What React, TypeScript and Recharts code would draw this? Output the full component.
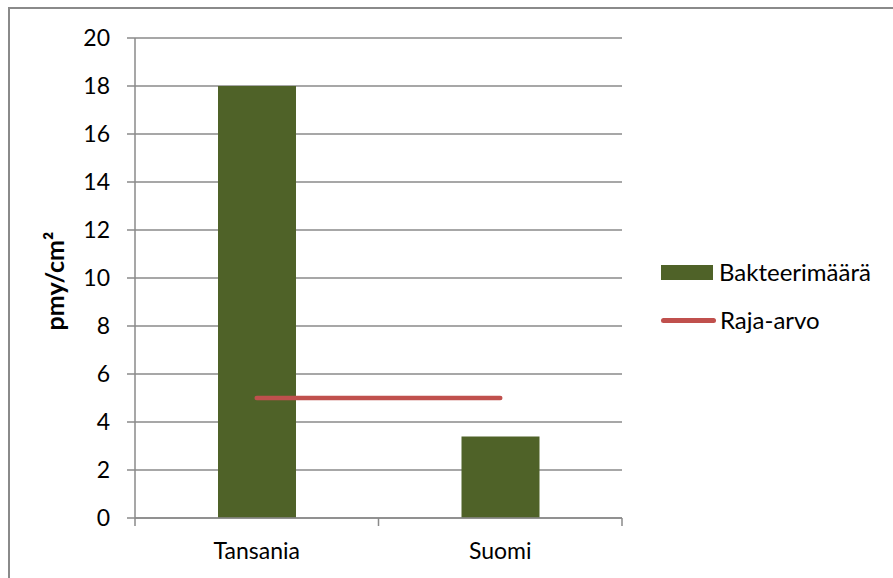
import { ComposedChart, Bar, Line, XAxis, YAxis, CartesianGrid, Legend, Label } from "recharts";

// Bacteria counts per sample location, with the limit value drawn across
const categories = ["Tansania", "Suomi"];
const bakteerimaara = [18, 3.4];
const rajaArvo = [5, 5];
const yTicks = [0, 2, 4, 6, 8, 10, 12, 14, 16, 18, 20];
// whole numbers are band edges (tick marks), halves are band centres (names)
const xTicks = [0, 0.5, 1, 1.5, 2];

const data = categories.map((name, i) => ({
  name,
  slot: i + 0.5,
  bakteerit: bakteerimaara[i],
  raja: rajaArvo[i],
}));

const FONT = "Lato, 'Open Sans', sans-serif";
const FS = 23;
const AXIS = "#8a8a8a";
const BAR = "#4F6228";
const LINE = "#C0504D";

const xDomain: [number, number] = [0, 2];
const yDomain: [number, number] = [0, 20];
const axisStroke = { stroke: AXIS, strokeWidth: 1.5 };
const tickText = { fill: "#000", fontSize: FS, fontFamily: FONT };

function XTick(props: any) {
  const { x, y, payload } = props;
  const v = payload.value as number;
  if (Number.isInteger(v)) {
    return <line x1={x} x2={x} y1={y - 8} y2={y} stroke={AXIS} strokeWidth={1.5} />;
  }
  return (
    <text x={x} y={y + 17} dy="0.71em" textAnchor="middle" fontFamily={FONT} fontSize={FS} fill="#000">
      {categories[Math.floor(v)]}
    </text>
  );
}

function YTitle(props: any) {
  const { viewBox } = props;
  const x = viewBox.x + 46;
  const y = viewBox.y + viewBox.height / 2 + 3;
  return (
    <text
      x={x}
      y={y}
      transform={`rotate(-90 ${x} ${y})`}
      textAnchor="middle"
      dominantBaseline="central"
      fontFamily={FONT}
      fontWeight="bold"
      fontSize={25}
      fill="#000"
    >
      pmy/cm²
    </text>
  );
}

function LegendBox() {
  const row = { display: "flex", alignItems: "center", height: 26, marginBottom: 22 } as const;
  return (
    <div style={{ fontFamily: FONT, fontSize: 24, color: "#000", lineHeight: "26px" }}>
      <div style={row}>
        <span style={{ width: 52, height: 15, background: BAR, marginRight: 6 }} />
        <span>Bakteerimäärä</span>
      </div>
      <div style={row}>
        <span style={{ width: 55, height: 5, borderRadius: 3, background: LINE, marginRight: 4 }} />
        <span>Raja-arvo</span>
      </div>
    </div>
  );
}

export default function App() {
  return (
    <div style={{ position: "absolute", left: 0, top: 0, width: 893, height: 578, background: "#fff" }}>
      <div
        style={{
          position: "absolute",
          left: 8,
          top: 7,
          width: 885,
          height: 571,
          borderLeft: `2px solid ${AXIS}`,
          borderTop: `2px solid ${AXIS}`,
          boxSizing: "border-box",
        }}
      />
      <ComposedChart
        width={893}
        height={578}
        data={data}
        margin={{ top: 38, right: 271, bottom: 20, left: 8 }}
        style={{ position: "absolute", left: 0, top: 0 }}
      >
        <CartesianGrid horizontal vertical={false} stroke={AXIS} strokeWidth={1.5} />
        <XAxis
          dataKey="slot"
          type="number"
          domain={xDomain}
          ticks={xTicks}
          interval={0}
          allowDataOverflow
          height={40}
          tickSize={8}
          tickMargin={0}
          tickLine={false}
          axisLine={axisStroke}
          tick={<XTick />}
        />
        <YAxis
          width={127}
          domain={yDomain}
          ticks={yTicks}
          tickSize={8}
          tickMargin={17}
          axisLine={axisStroke}
          tickLine={axisStroke}
          tick={tickText}
        >
          <Label content={<YTitle />} />
        </YAxis>
        <Legend
          layout="horizontal"
          align="center"
          verticalAlign="middle"
          wrapperStyle={{ left: 661, top: 259, width: 232 }}
          content={<LegendBox />}
        />
        <Bar dataKey="bakteerit" name="Bakteerimäärä" fill={BAR} barSize={78} isAnimationActive={false} />
        <Line
          dataKey="raja"
          name="Raja-arvo"
          stroke={LINE}
          strokeWidth={4.5}
          strokeLinecap="round"
          dot={false}
          activeDot={false}
          isAnimationActive={false}
        />
      </ComposedChart>
    </div>
  );
}
